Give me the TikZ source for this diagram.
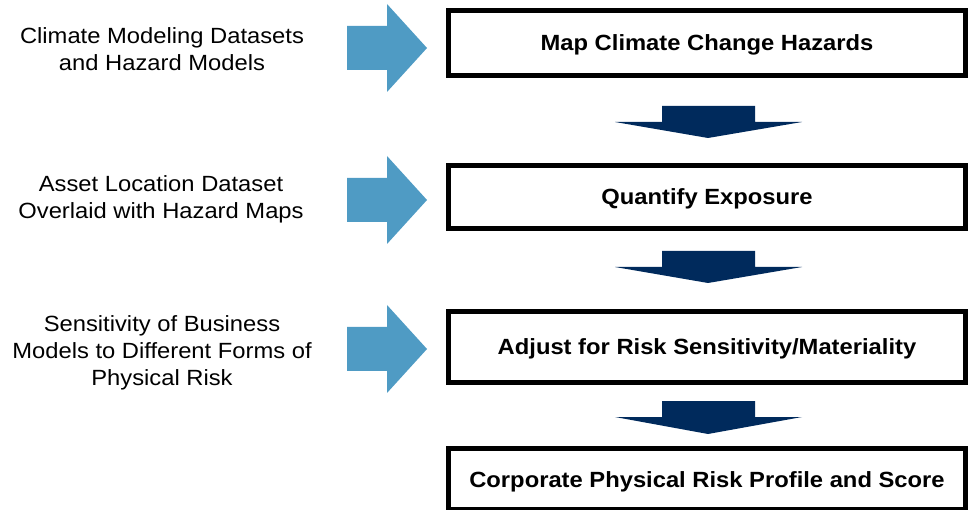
\documentclass[tikz,border=0pt]{standalone}
\usepackage{fontspec}
\setmainfont{Liberation Sans}[FakeStretch=1.08]
\definecolor{lightarrow}{RGB}{79,155,196}
\definecolor{navyarrow}{RGB}{0,42,92}
\begin{document}
\begin{tikzpicture}[x=1pt,y=-1pt,
  stepbox/.style={draw=black, line width=5pt, fill=white, minimum width=517pt, inner sep=0pt,
    text height=16pt, text depth=0pt,
    font=\fontsize{22}{27}\selectfont\bfseries},
  sidetext/.style={align=center, inner sep=0pt, font=\fontsize{22}{27}\selectfont},
  rightarrow/.style={fill=lightarrow, draw=none},
  downarrow/.style={fill=navyarrow, draw=none}]
\useasboundingbox (0,0) rectangle (969,510);

% process boxes
\node[stepbox, minimum height=65pt] (b1) at (707,43) {Map Climate Change Hazards};
\node[stepbox, minimum height=63pt] (b2) at (707,197) {Quantify Exposure};
\node[stepbox, minimum height=71pt] (b3) at (707,347) {Adjust for Risk Sensitivity/Materiality};
\node[stepbox, minimum height=61pt] (b4) at (707,479) {Corporate Physical Risk Profile and Score};

% side texts
\node[sidetext] (t1) at (162,49) {Climate Modeling Datasets\\and Hazard Models};
\node[sidetext] (t2) at (161,199) {Asset Location Dataset\\Overlaid with Hazard Maps};
\node[sidetext] (t3) at (162,353) {Sensitivity of Business\\Models to Different Forms of\\Physical Risk};

% right block arrows
\foreach \c in {48,200,349}{
  \fill[rightarrow] (347,\c-22) -- (387,\c-22) -- (387,\c-44) -- (427,\c) -- (387,\c+44)
    -- (387,\c+22) -- (347,\c+22) -- cycle;
}

% down block arrows
\foreach \s/\h/\t in {106/122/138, 251/267/283, 401/417/434}{
  \fill[downarrow] (662,\s) -- (755,\s) -- (755,\h) -- (802,\h) -- (708,\t) -- (615,\h)
    -- (662,\h) -- cycle;
}
\end{tikzpicture}
\end{document}
